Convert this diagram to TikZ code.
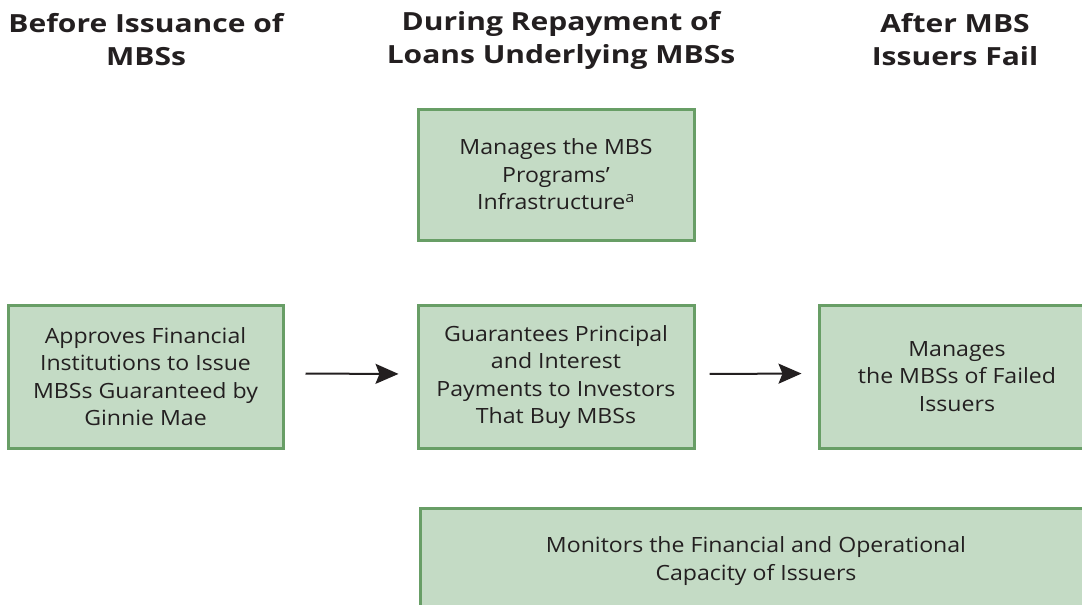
\documentclass[tikz,border=0pt]{standalone}
\usepackage{fontspec}
\setmainfont{Open Sans}
\newfontfamily\headfont{Open Sans}[FakeStretch=1.2]
\newfontfamily\bodyfont{Open Sans}[FakeStretch=1.1]
\usetikzlibrary{arrows.meta, positioning}
\definecolor{boxfill}{RGB}{196,219,197}
\definecolor{boxline}{RGB}{104,158,102}
\definecolor{inkgray}{RGB}{35,31,32}
\tikzset{%
	stage box/.style={
		draw=boxline,
		fill=boxfill,
		line width=3pt,
		inner sep=0pt,
		align=center,
		text=inkgray,
		font=\bodyfont\fontsize{21}{27.5}\selectfont
	},
	stage head/.style={
		align=center,
		text=inkgray,
		font=\headfont\bfseries\fontsize{25}{33}\selectfont
	},
	flow arrow/.style={
		-{Stealth[length=23pt,width=20pt,inset=4pt]},
		line width=2pt,
		draw=inkgray
	},
}
\begin{document}
\begin{tikzpicture}[x=1pt,y=-1pt]
			\useasboundingbox (0,0) rectangle (1082,605);
			\clip (0,0) rectangle (1082,605);
			
			% Column headings
			\node[stage head] (before) at (146,40) {Before Issuance of\\MBSs};
			\node[stage head] (during) at (561,40) {During Repayment of\\Loans Underlying MBSs};
			\node[stage head] (after) at (955,40) {After MBS\\Issuers Fail};
			
			% During repayment, top
			\node[stage box, minimum width=276pt, minimum height=131pt] (infra) at (556,174.5) {Manages the MBS\\Programs’\\Infrastructure\textsuperscript{a}};
			
			% Middle row
			\node[stage box, minimum width=275pt, minimum height=143pt] (approve) at (145.5,376.5) {Approves Financial\\Institutions to Issue\\MBSs Guaranteed by\\Ginnie Mae};
			\node[stage box, minimum width=276pt, minimum height=143pt] (guarantee) at (556,377) {Guarantees Principal\\and Interest\\Payments to Investors\\That Buy MBSs};
			\node[stage box, minimum width=276pt, minimum height=143pt] (failed) at (957,376.5) {Manages\\the MBSs of Failed\\Issuers};
			
			% Arrows between stages
			\draw[flow arrow, shorten <=21pt, shorten >=18pt] ([yshift=3pt]approve.east) -- ([yshift=3pt]guarantee.west);
			\draw[flow arrow, shorten <=14pt, shorten >=16pt] ([yshift=3pt]guarantee.east) -- ([yshift=3pt]failed.west);
			
			% During repayment, bottom
			\node[stage box, minimum width=672pt, minimum height=106pt] (monitor) at (756,561) {Monitors the Financial and Operational\\Capacity of Issuers};
			
\end{tikzpicture}
\end{document}
